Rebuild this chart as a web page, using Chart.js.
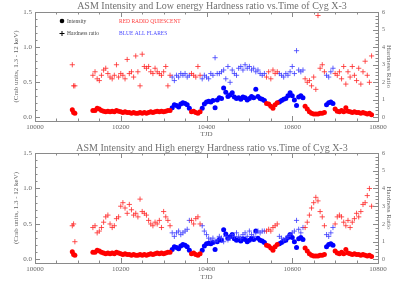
<!DOCTYPE html>
<html>
<head>
<meta charset="utf-8">
<script src="https://cdn.jsdelivr.net/npm/chart.js@4.4.1/dist/chart.umd.min.js"></script>
<style>
  body { margin: 0; background: #fff; }
  canvas { display: block; }
</style>
</head>
<body>
<canvas id="lowChart" width="393" height="142"></canvas>
<canvas id="highChart" width="393" height="143"></canvas>
<script>
// ASM daily points of Cyg X-3
var tjd = [10087, 10090, 10093,
  10135, 10140, 10145, 10150, 10155, 10160, 10165, 10170, 10175, 10180,
  10185, 10190, 10195, 10200, 10205, 10210, 10215, 10220, 10225, 10230,
  10235, 10240, 10245, 10250, 10255, 10260, 10265, 10270, 10275, 10280,
  10285, 10290, 10295, 10300, 10305, 10310, 10315, 10320, 10325, 10330,
  10335, 10340, 10345, 10350, 10355, 10360, 10365, 10370, 10375, 10380,
  10385, 10390, 10395, 10400, 10405, 10410, 10415, 10420, 10425, 10430,
  10435, 10440, 10445, 10450, 10455, 10460, 10465, 10470, 10475, 10480,
  10485, 10490, 10495, 10500, 10505, 10510, 10515, 10520, 10525, 10530,
  10535, 10540, 10545, 10550, 10555, 10560, 10565, 10570, 10575, 10580,
  10585, 10590, 10595, 10600, 10605, 10610, 10615, 10620, 10625, 10630,
  10635, 10640, 10645, 10650, 10655, 10660, 10665, 10670, 10675, 10680,
  10685, 10690, 10695, 10700, 10705, 10710, 10715, 10720, 10725, 10730,
  10735, 10740, 10745, 10750, 10755, 10760, 10765, 10770, 10775, 10780,
  10785];

// 1 = flaring (blue), 0 = radio quiescent (red)
var flare = [0, 0, 0,
  0, 0, 0, 0, 0, 0, 0, 0, 0, 0,
  0, 0, 0, 0, 0, 0, 0, 0, 0, 0,
  0, 0, 0, 0, 0, 0, 0, 0, 0, 0,
  0, 0, 0, 0, 0, 0, 0, 1, 1, 1,
  1, 1, 1, 1, 1, 1, 0, 0, 0, 0,
  0, 1, 1, 1, 1, 1, 1, 1, 1, 1,
  1, 1, 1, 1, 1, 1, 1, 1, 1, 1,
  1, 1, 1, 1, 1, 1, 1, 1, 1, 1,
  1, 0, 0, 0, 0, 0, 0, 1, 1, 1,
  1, 1, 1, 1, 1, 1, 1, 1, 1, 0,
  0, 0, 0, 0, 0, 0, 0, 0, 0, 1,
  1, 1, 1, 0, 0, 0, 0, 0, 0, 0,
  0, 0, 0, 0, 0, 0, 0, 0, 0, 0,
  0];

var intensity = [0.11, 0.07, 0.06,
  0.10, 0.10, 0.13, 0.12, 0.10, 0.09, 0.08, 0.09, 0.08, 0.09,
  0.08, 0.10, 0.09, 0.08, 0.07, 0.08, 0.07, 0.07, 0.06, 0.07,
  0.06, 0.06, 0.07, 0.06, 0.07, 0.06, 0.07, 0.08, 0.07, 0.08,
  0.09, 0.08, 0.09, 0.08, 0.09, 0.10, 0.10, 0.14, 0.18, 0.17,
  0.15, 0.19, 0.21, 0.20, 0.18, 0.13, 0.08, 0.09, 0.07, 0.06,
  0.08, 0.13, 0.19, 0.22, 0.23, 0.22, 0.24, 0.14, 0.25, 0.28,
  0.27, 0.42, 0.36, 0.30, 0.32, 0.35, 0.29, 0.27, 0.28, 0.26,
  0.29, 0.28, 0.25, 0.27, 0.30, 0.28, 0.40, 0.30, 0.27, 0.26,
  0.24, 0.20, 0.19, 0.16, 0.13, 0.18, 0.21, 0.22, 0.24, 0.26,
  0.27, 0.31, 0.35, 0.31, 0.25, 0.17, 0.29, 0.31, 0.28, 0.16,
  0.12, 0.08, 0.06, 0.05, 0.05, 0.05, 0.06, 0.06, 0.07, 0.18,
  0.21, 0.22, 0.20, 0.12, 0.09, 0.08, 0.10, 0.08, 0.14, 0.09,
  0.08, 0.07, 0.08, 0.07, 0.07, 0.06, 0.07, 0.06, 0.05, 0.06,
  0.04];

var hardLow = [3.0, 1.8, 1.8,
  2.4, 2.6, 2.2, 2.1, 2.4, 2.7, 2.8, 2.5, 2.3, 2.2,
  2.4, 3.0, 2.3, 2.5, 2.4, 2.2, 3.3, 2.5, 2.6, 2.3,
  3.5, 2.6, 1.8, 3.6, 2.9, 2.8, 2.9, 2.6, 2.5, 2.8,
  2.6, 2.5, 2.4, 2.6, 2.9, 1.8, 2.4, 2.3, 2.1, 2.4,
  2.3, 2.5, 2.4, 2.5, 2.3, 2.4, 2.5, 2.4, 2.3, 2.9,
  2.4, 2.2, 2.4, 2.3, 2.2, 2.5, 2.4, 3.4, 2.5, 2.5,
  2.6, 2.7, 2.2, 2.9, 2.0, 2.7, 2.5, 2.4, 2.8, 2.9,
  2.7, 3.0, 2.8, 2.9, 2.7, 2.8, 2.6, 2.7, 2.5, 2.4,
  2.5, 2.3, 2.6, 2.2, 2.7, 2.5, 2.6, 2.5, 2.4, 2.3,
  2.5, 2.4, 2.6, 2.9, 2.5, 3.8, 2.7, 2.6, 2.7, 2.2,
  2.0, 2.1, 1.8, 2.3, 1.6, 5.8, 2.8, 3.0, 2.6, 2.4,
  2.3, 2.6, 2.8, 2.5, 2.4, 2.6, 2.2, 2.9, 1.9, 2.6,
  2.3, 2.9, 2.4, 2.1, 2.8, 1.9, 2.6, 3.2, 2.4, 2.0,
  3.5];

var hardHigh = [1.9, 2.0, 1.0,
  1.8, 1.9, 1.5, 1.6, 1.8, 2.1, 2.4, 2.5, 2.0, 1.8,
  1.9, 2.3, 2.4, 3.0, 3.2, 2.9, 2.6, 3.1, 2.8, 2.5,
  2.6, 2.4, 3.4, 2.7, 2.6, 2.5, 2.2, 2.0, 1.9, 2.1,
  2.0, 2.2, 1.8, 2.7, 2.4, 2.2, 1.9, 1.5, 1.3, 1.5,
  1.6, 1.4, 1.5, 1.6, 1.7, 2.2, 2.2, 2.0, 2.3, 2.4,
  2.0, 1.9, 1.6, 1.4, 1.2, 1.1, 1.2, 1.0, 1.1, 1.3,
  1.2, 1.0, 1.3, 1.1, 1.2, 1.4, 1.3, 1.5, 1.3, 1.2,
  1.4, 1.5, 1.3, 1.6, 1.4, 1.3, 1.5, 1.6, 1.5, 1.6,
  1.6, 1.6, 1.7, 1.6, 1.8, 1.9, 2.0, 1.3, 1.2, 1.1,
  1.2, 1.3, 1.4, 1.5, 1.6, 2.2, 1.7, 1.5, 1.8, 1.8,
  2.1, 2.5, 2.9, 3.2, 3.5, 3.3, 2.7, 2.4, 1.9, 1.4,
  1.3, 1.5, 1.8, 2.0, 2.4, 2.5, 2.4, 2.1, 1.9, 2.2,
  1.8, 2.1, 2.3, 2.6, 2.4, 2.7, 3.1, 3.2, 3.6, 4.0,
  3.0];

var xTicks = [10000, 10200, 10400, 10600, 10800];
var yTicks = [0, 0.5, 1.0, 1.5];
var y2Ticks = [0, 1, 2, 3, 4, 5, 6];

var serif = '"Liberation Serif", "DejaVu Serif", serif';
var axisColor = '#8a8a8a';
var textColor = '#666666';

function pick(values, want) {
  var pts = [];
  for (var i = 0; i < tjd.length; i++) {
    if (flare[i] === want) pts.push({x: tjd[i], y: values[i]});
  }
  return pts;
}

// IDL style box: inward major and minor ticks on all four sides, title, legend
var idlFrame = {
  id: 'idlFrame',
  afterDraw: function(chart) {
    var ctx = chart.ctx, a = chart.chartArea, s = chart.scales;
    var opts = chart.options.plugins.idlFrame;
    ctx.save();
    ctx.strokeStyle = axisColor;
    ctx.lineWidth = 1;
    ctx.beginPath();
    ctx.moveTo(a.left, a.top + 0.5);
    ctx.lineTo(a.right, a.top + 0.5);
    var v, p, len;
    for (v = 10000; v <= 10800; v += 50) {
      p = Math.round(s.x.getPixelForValue(v)) + 0.5;
      len = v % 200 === 0 ? 5 : 2.5;
      ctx.moveTo(p, a.bottom); ctx.lineTo(p, a.bottom - len);
      ctx.moveTo(p, a.top); ctx.lineTo(p, a.top + len);
    }
    for (v = 0; v <= 15; v++) {
      p = Math.round(s.y.getPixelForValue(v / 10)) + 0.5;
      len = v % 5 === 0 ? 5 : 2.5;
      ctx.moveTo(a.left, p); ctx.lineTo(a.left + len, p);
    }
    for (v = 0; v <= 30; v++) {
      p = Math.round(s.y2.getPixelForValue(v / 5)) + 0.5;
      len = v % 5 === 0 ? 5 : 2.5;
      ctx.moveTo(a.right, p); ctx.lineTo(a.right - len, p);
    }
    ctx.stroke();

    ctx.fillStyle = '#707070';
    ctx.font = '10px ' + serif;
    ctx.textAlign = 'center';
    ctx.textBaseline = 'middle';
    ctx.fillText(opts.title, 212, 6);

    if (opts.legend) {
      ctx.textAlign = 'left';
      ctx.font = '5.5px ' + serif;
      ctx.fillStyle = '#000';
      ctx.beginPath();
      ctx.arc(62, 21, 2.3, 0, Math.PI * 2);
      ctx.fill();
      ctx.beginPath();
      ctx.strokeStyle = '#000';
      ctx.moveTo(59.5, 33.5); ctx.lineTo(64.5, 33.5);
      ctx.moveTo(62, 31); ctx.lineTo(62, 36);
      ctx.stroke();
      ctx.fillStyle = '#444';
      ctx.fillText('Intensity', 67, 21.5);
      ctx.fillText('Hardness ratio', 67, 33.5);
      ctx.fillStyle = '#ff3a3a';
      ctx.fillText('RED RADIO QUIESCENT', 119, 21.5);
      ctx.fillStyle = '#4a4aff';
      ctx.fillText('BLUE ALL FLARES', 119, 33.5);
    }
    ctx.restore();
  }
};

function makePanel(id, title, hardness, legend, padTop, xHeight) {
  var tickFont = {family: serif, size: 7};
  return new Chart(document.getElementById(id), {
    type: 'scatter',
    data: {
      datasets: [
        {data: pick(hardness, 0), yAxisID: 'y2', pointStyle: 'cross', pointRadius: 2.6,
          borderColor: 'rgba(255,40,40,0.8)', borderWidth: 1},
        {data: pick(hardness, 1), yAxisID: 'y2', pointStyle: 'cross', pointRadius: 2.6,
          borderColor: 'rgba(60,60,255,0.8)', borderWidth: 1},
        {data: pick(intensity, 0), yAxisID: 'y', pointStyle: 'circle', pointRadius: 2.5,
          backgroundColor: '#ff0000', borderWidth: 0},
        {data: pick(intensity, 1), yAxisID: 'y', pointStyle: 'circle', pointRadius: 2.5,
          backgroundColor: '#0000ff', borderWidth: 0}
      ]
    },
    options: {
      responsive: false,
      animation: false,
      devicePixelRatio: 1,
      layout: {padding: {top: padTop, left: 0, right: 0, bottom: 0}},
      plugins: {
        legend: {display: false},
        tooltip: {enabled: false},
        idlFrame: {title: title, legend: legend}
      },
      scales: {
        x: {
          type: 'linear', position: 'bottom', min: 10000, max: 10800,
          afterBuildTicks: function(sc) { sc.ticks = xTicks.map(function(v) { return {value: v}; }); },
          afterFit: function(sc) { sc.height = xHeight; },
          grid: {display: false, drawTicks: false},
          border: {color: axisColor, width: 1},
          ticks: {padding: 2, color: textColor, font: tickFont, maxRotation: 0, autoSkip: false,
            callback: function(v) { return String(v); }},
          title: {display: true, text: 'TJD', color: textColor, font: tickFont, padding: {top: 0, bottom: 4}}
        },
        y: {
          type: 'linear', position: 'left', min: -0.05, max: 1.5,
          afterBuildTicks: function(sc) { sc.ticks = yTicks.map(function(v) { return {value: v}; }); },
          afterFit: function(sc) { sc.width = 35; },
          grid: {display: false, drawTicks: false},
          border: {color: axisColor, width: 1},
          ticks: {padding: 3, color: textColor, font: tickFont,
            callback: function(v) { return v.toFixed(1); }},
          title: {display: true, text: '(Crab units, 1.3 - 12 keV)', color: textColor, font: tickFont,
            padding: {top: 12, bottom: 0}}
        },
        y2: {
          type: 'linear', position: 'right', min: -0.2, max: 6,
          afterBuildTicks: function(sc) { sc.ticks = y2Ticks.map(function(v) { return {value: v}; }); },
          afterFit: function(sc) { sc.width = 15; },
          grid: {display: false, drawTicks: false},
          border: {color: axisColor, width: 1},
          ticks: {padding: 4, color: textColor, font: {family: serif, size: 6},
            callback: function(v) { return String(v); }},
          title: {display: true, text: 'Hardness Ratio', color: textColor, font: tickFont,
            padding: {top: 0, bottom: 0}}
        }
      }
    },
    plugins: [idlFrame]
  });
}

makePanel('lowChart', 'ASM Intensity and Low energy Hardness ratio vs.Time of Cyg X-3', hardLow, true, 12, 21);
makePanel('highChart', 'ASM Intensity and High energy Hardness ratio vs.Time of Cyg X-3', hardHigh, false, 11, 22);
</script>
</body>
</html>
